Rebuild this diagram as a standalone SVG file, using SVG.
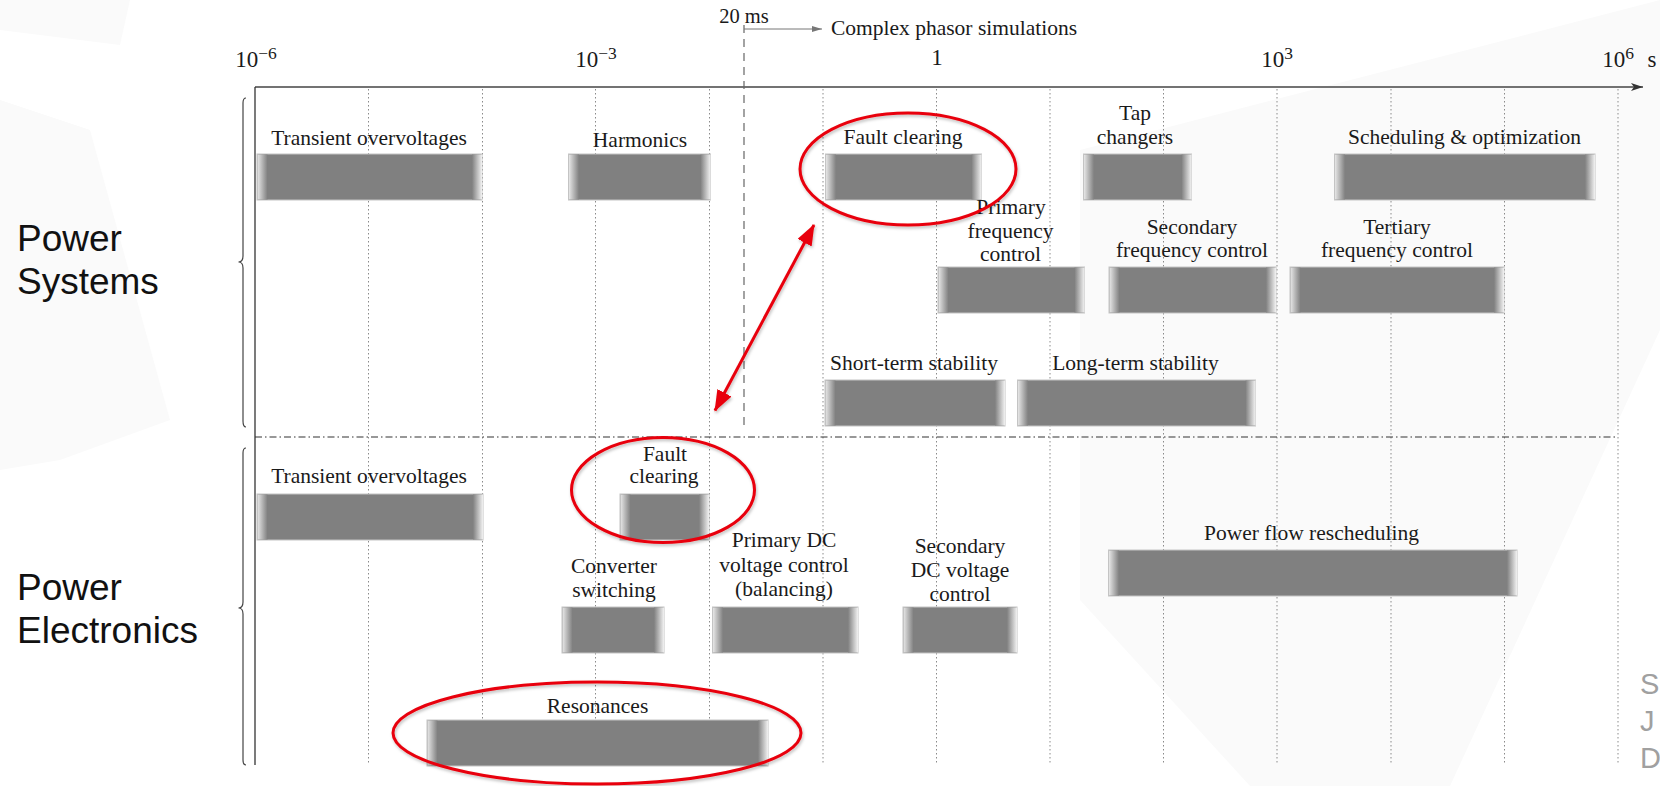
<svg xmlns="http://www.w3.org/2000/svg" width="1660" height="786" viewBox="0 0 1660 786">
<style>
.lbl{font-family:"Liberation Serif","Times New Roman",serif;font-size:21.5px;fill:#1a1a1a;text-anchor:middle}
.ax{font-family:"Liberation Serif","Times New Roman",serif;font-size:23px;fill:#1a1a1a;text-anchor:middle}
.side{font-family:"Liberation Sans",Arial,sans-serif;font-size:37px;fill:#111}
.foot{font-family:"Liberation Sans",Arial,sans-serif;font-size:29px;fill:#a0a0a0}
.bar{fill:#808080;stroke:#c4c4c4;stroke-width:1}
.fl{fill:url(#fadeL)}
.fr{fill:url(#fadeR)}
.grid{stroke:#8a8a8a;stroke-width:1;stroke-dasharray:1.5 2.5;fill:none}
.ring{fill:none;stroke:#e8000b;stroke-width:3;filter:url(#sh)}
.brace{fill:none;stroke:#444;stroke-width:1.2}
</style>
<defs>
<linearGradient id="fadeL" x1="0" y1="0" x2="1" y2="0"><stop offset="0" stop-color="#e6e6e6"/><stop offset="1" stop-color="#808080"/></linearGradient>
<linearGradient id="fadeR" x1="0" y1="0" x2="1" y2="0"><stop offset="0" stop-color="#808080"/><stop offset="1" stop-color="#f2f2f2"/></linearGradient>
<marker id="axArr" markerUnits="userSpaceOnUse" markerWidth="14" markerHeight="10" refX="12" refY="5" orient="auto"><path d="M0,1 L12,5 L0,9 L3,5 z" fill="#333"/></marker>
<marker id="smArr" markerUnits="userSpaceOnUse" markerWidth="12" markerHeight="8" refX="10" refY="4" orient="auto"><path d="M0,1 L10,4 L0,7 z" fill="#777"/></marker>
<marker id="redArr" markerUnits="userSpaceOnUse" markerWidth="24" markerHeight="18" refX="20" refY="8" orient="auto-start-reverse"><path d="M0,0 L21,8 L0,16 z" fill="#e8000b"/></marker>
<filter id="sh" x="-10%" y="-10%" width="120%" height="130%"><feDropShadow dx="1" dy="2" stdDeviation="1.5" flood-color="#000" flood-opacity="0.25"/></filter>
</defs>
<rect x="0" y="0" width="1660" height="786" fill="#ffffff"/>
<g id="background" fill="#fafafa">
<polygon points="0,0 130,0 120,45 0,30"/>
<polygon points="0,100 90,130 170,420 60,460 0,470"/>
<polygon points="1080,150 1660,0 1660,330 1450,786 1250,786 1080,600"/>
</g>

<g id="axis">
<line x1="255" y1="87" x2="1643" y2="87" stroke="#444" stroke-width="1.5" marker-end="url(#axArr)"/>
<line x1="255" y1="87" x2="255" y2="765" stroke="#333" stroke-width="1.3"/>
<g class="grid">
<line x1="368.5" y1="89" x2="368.5" y2="765"/>
<line x1="482.5" y1="89" x2="482.5" y2="765"/>
<line x1="595.5" y1="89" x2="595.5" y2="765"/>
<line x1="709.5" y1="89" x2="709.5" y2="765"/>
<line x1="823" y1="89" x2="823" y2="765"/>
<line x1="936.5" y1="89" x2="936.5" y2="765"/>
<line x1="1050" y1="89" x2="1050" y2="765"/>
<line x1="1163.5" y1="89" x2="1163.5" y2="765"/>
<line x1="1277" y1="89" x2="1277" y2="765"/>
<line x1="1391" y1="89" x2="1391" y2="765"/>
<line x1="1504.5" y1="89" x2="1504.5" y2="765"/>
<line x1="1618" y1="89" x2="1618" y2="765"/>
</g>
<line x1="255" y1="437" x2="1618" y2="437" stroke="#333" stroke-width="1.2" stroke-dasharray="7 3 1.5 3"/>
<line x1="744" y1="25" x2="744" y2="425" stroke="#666" stroke-width="1.2" stroke-dasharray="8 6"/>
<text class="ax" x="256" y="67">10<tspan font-size="17.5" dy="-8">−6</tspan></text>
<text class="ax" x="596" y="67">10<tspan font-size="17.5" dy="-8">−3</tspan></text>
<text class="ax" x="937" y="65">1</text>
<text class="ax" x="1277" y="67">10<tspan font-size="17.5" dy="-8">3</tspan></text>
<text class="ax" x="1618" y="67">10<tspan font-size="17.5" dy="-8">6</tspan></text>
<text class="ax" x="1652" y="67">s</text>
<text class="lbl" x="744" y="23" style="font-size:20.5px">20 ms</text>
<line x1="744" y1="29" x2="822" y2="29" stroke="#777" stroke-width="1" marker-end="url(#smArr)"/>
<text class="lbl" x="831" y="35" style="text-anchor:start">Complex phasor simulations</text>
</g>

<g id="groups">
<path class="brace" d="M246,98 Q243,98 243,103 L243,256 Q243,262 238.5,262 Q243,262 243,268 L243,421 Q243,427 246,427"/>
<path class="brace" d="M246,448 Q243,448 243,453 L243,602 Q243,608 238.5,608 Q243,608 243,614 L243,760 Q243,765 246,765"/>
<text class="side" x="17" y="251">Power</text>
<text class="side" x="17" y="294">Systems</text>
<text class="side" x="17" y="600">Power</text>
<text class="side" x="17" y="643">Electronics</text>
</g>

<g id="ps-transient">
<rect class="bar" x="257" y="154" width="225" height="46"/><rect class="fl" x="257.5" y="154.5" width="10" height="45"/><rect class="fr" x="472" y="154.5" width="10" height="45"/>
<text class="lbl" x="369" y="145">Transient overvoltages</text>
</g>
<g id="ps-harmonics">
<rect class="bar" x="568.5" y="154" width="142" height="46"/><rect class="fl" x="569" y="154.5" width="10" height="45"/><rect class="fr" x="700.5" y="154.5" width="10" height="45"/>
<text class="lbl" x="640" y="147">Harmonics</text>
</g>
<g id="ps-fault">
<rect class="bar" x="825.5" y="154" width="156" height="46"/><rect class="fl" x="826" y="154.5" width="10" height="45"/><rect class="fr" x="971.5" y="154.5" width="10" height="45"/>
<text class="lbl" x="903" y="144">Fault clearing</text>
</g>
<g id="ps-tap">
<rect class="bar" x="1083.5" y="154" width="108" height="46"/><rect class="fl" x="1084" y="154.5" width="10" height="45"/><rect class="fr" x="1181.5" y="154.5" width="10" height="45"/>
<text class="lbl" x="1135" y="120">Tap</text>
<text class="lbl" x="1135" y="143.5">changers</text>
</g>
<g id="ps-scheduling">
<rect class="bar" x="1334.5" y="154" width="260.5" height="46"/><rect class="fl" x="1335" y="154.5" width="10" height="45"/><rect class="fr" x="1585" y="154.5" width="10" height="45"/>
<text class="lbl" x="1464.5" y="143.5">Scheduling &amp; optimization</text>
</g>
<g id="ps-primary">
<rect class="bar" x="938" y="267" width="146.5" height="46"/><rect class="fl" x="938.5" y="267.5" width="10" height="45"/><rect class="fr" x="1074.5" y="267.5" width="10" height="45"/>
<text class="lbl" x="1011" y="214">Primary</text>
<text class="lbl" x="1010.5" y="237.5">frequency</text>
<text class="lbl" x="1010.5" y="261">control</text>
</g>
<g id="ps-secondary">
<rect class="bar" x="1109" y="267" width="167" height="46"/><rect class="fl" x="1109.5" y="267.5" width="10" height="45"/><rect class="fr" x="1266" y="267.5" width="10" height="45"/>
<text class="lbl" x="1192" y="233.5">Secondary</text>
<text class="lbl" x="1192" y="257">frequency control</text>
</g>
<g id="ps-tertiary">
<rect class="bar" x="1290" y="267" width="214" height="46"/><rect class="fl" x="1290.5" y="267.5" width="10" height="45"/><rect class="fr" x="1494" y="267.5" width="10" height="45"/>
<text class="lbl" x="1397" y="233.5">Tertiary</text>
<text class="lbl" x="1397" y="257">frequency control</text>
</g>
<g id="ps-short">
<rect class="bar" x="825" y="380" width="180" height="46"/><rect class="fl" x="825.5" y="380.5" width="10" height="45"/><rect class="fr" x="995" y="380.5" width="10" height="45"/>
<text class="lbl" x="914" y="370">Short-term stability</text>
</g>
<g id="ps-long">
<rect class="bar" x="1017.5" y="380" width="238" height="46"/><rect class="fl" x="1018" y="380.5" width="10" height="45"/><rect class="fr" x="1245.5" y="380.5" width="10" height="45"/>
<text class="lbl" x="1135.5" y="370">Long-term stability</text>
</g>

<g id="pe-transient">
<rect class="bar" x="257" y="494" width="226" height="46"/><rect class="fl" x="257.5" y="494.5" width="10" height="45"/><rect class="fr" x="473" y="494.5" width="10" height="45"/>
<text class="lbl" x="369" y="483">Transient overvoltages</text>
</g>
<g id="pe-fault">
<rect class="bar" x="620" y="494" width="89" height="46"/><rect class="fl" x="620.5" y="494.5" width="10" height="45"/><rect class="fr" x="699" y="494.5" width="10" height="45"/>
<text class="lbl" x="665" y="460.5">Fault</text>
<text class="lbl" x="664" y="483">clearing</text>
</g>
<g id="pe-converter">
<rect class="bar" x="562" y="607" width="102" height="46"/><rect class="fl" x="562.5" y="607.5" width="10" height="45"/><rect class="fr" x="654" y="607.5" width="10" height="45"/>
<text class="lbl" x="614" y="573">Converter</text>
<text class="lbl" x="614" y="597">switching</text>
</g>
<g id="pe-primarydc">
<rect class="bar" x="712.5" y="607" width="145.5" height="46"/><rect class="fl" x="713" y="607.5" width="10" height="45"/><rect class="fr" x="848" y="607.5" width="10" height="45"/>
<text class="lbl" x="784" y="547">Primary DC</text>
<text class="lbl" x="784" y="572">voltage control</text>
<text class="lbl" x="784" y="596">(balancing)</text>
</g>
<g id="pe-secondarydc">
<rect class="bar" x="903" y="607" width="114" height="46"/><rect class="fl" x="903.5" y="607.5" width="10" height="45"/><rect class="fr" x="1007" y="607.5" width="10" height="45"/>
<text class="lbl" x="960" y="553">Secondary</text>
<text class="lbl" x="960" y="577">DC voltage</text>
<text class="lbl" x="960" y="601">control</text>
</g>
<g id="pe-powerflow">
<rect class="bar" x="1108.5" y="550" width="408.5" height="46"/><rect class="fl" x="1109" y="550.5" width="10" height="45"/><rect class="fr" x="1507" y="550.5" width="10" height="45"/>
<text class="lbl" x="1311.5" y="540">Power flow rescheduling</text>
</g>
<g id="pe-resonances">
<rect class="bar" x="427" y="720" width="341" height="46"/><rect class="fl" x="427.5" y="720.5" width="10" height="45"/><rect class="fr" x="758" y="720.5" width="10" height="45"/>
<text class="lbl" x="597.5" y="713">Resonances</text>
</g>

<g id="highlights">
<ellipse class="ring" cx="908" cy="169" rx="108" ry="56"/>
<ellipse class="ring" cx="663" cy="490" rx="91.5" ry="52.5"/>
<ellipse class="ring" cx="597" cy="733" rx="204" ry="51"/>
</g>

<g id="connectors">
<line x1="814" y1="225" x2="715" y2="410.5" stroke="#e8000b" stroke-width="3" marker-start="url(#redArr)" marker-end="url(#redArr)" filter="url(#sh)"/>
</g>

<g id="footer">
<text class="foot" x="1640" y="694">S</text>
<text class="foot" x="1640" y="731">J</text>
<text class="foot" x="1640" y="768">D</text>
</g>
</svg>
